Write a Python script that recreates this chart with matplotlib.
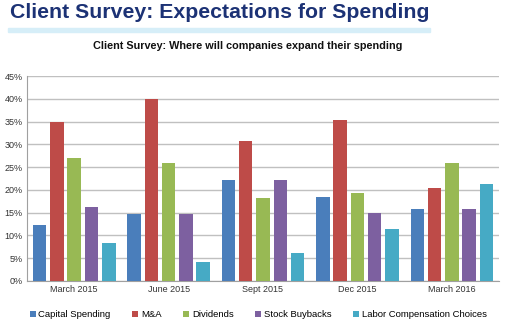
import numpy as np
import matplotlib
matplotlib.use("Agg")
import matplotlib.pyplot as plt
from matplotlib.patches import Rectangle

plt.rcParams["font.family"] = ["Liberation Sans", "DejaVu Sans"]

periods = ["March 2015", "June 2015", "Sept 2015", "Dec 2015", "March 2016"]
series_names = ["Capital Spending", "M&A", "Dividends", "Stock Buybacks", "Labor Compensation Choices"]
capital = [12.4, 14.7, 22.2, 18.5, 15.8]
mna = [35.0, 40.0, 30.7, 35.3, 20.5]
dividends = [27.1, 25.9, 18.3, 19.3, 26.0]
buybacks = [16.3, 14.7, 22.2, 14.9, 15.8]
labor = [8.4, 4.2, 6.1, 11.4, 21.4]
colors = ["#4a7ebb", "#be4b48", "#98b954", "#7d60a0", "#46aac5"]

all_series = [capital, mna, dividends, buybacks, labor]

fig = plt.figure(figsize=(5.14, 3.26), dpi=100)
ax = fig.add_axes([27/514, 1 - 281/326, (499-27)/514, (281-76)/326])

x = np.arange(len(periods))
pitch = 0.183
width = 0.143
for i, (vals, name, c) in enumerate(zip(all_series, series_names, colors)):
    ax.bar(x + (i - 2) * pitch, vals, width=width, color=c, label=name, zorder=3)

ax.set_xlim(-0.5, len(periods) - 0.5)
ax.set_ylim(0, 45)
ax.set_yticks(range(0, 46, 5))
ax.set_yticklabels([f"{v}%" for v in range(0, 46, 5)], fontsize=6.5, color="#333333")
ax.set_xticks(x)
ax.set_xticklabels(periods, fontsize=6.5, color="#333333")
ax.tick_params(axis="both", length=0, pad=3)
ax.grid(axis="y", color="#c0c0c0", linewidth=1, zorder=0)
for s in ["top", "right"]:
    ax.spines[s].set_visible(False)
ax.spines["left"].set_color("#a0a0a0")
ax.spines["bottom"].set_color("#a0a0a0")

ax.legend(loc="upper center", bbox_to_anchor=(0.49, -0.1), ncol=5, frameon=False,
          fontsize=6.8, handlelength=0.6, handleheight=0.6, handletextpad=0.3,
          columnspacing=2.3)

fig.text(10/514, 1 - 13/326, "Client Survey: Expectations for Spending", fontsize=15.3,
         fontweight="bold", color="#1c3275", va="center", ha="left")
fig.patches.append(Rectangle((8/514, 1 - 32/326), (430-8)/514, 4/326,
                             transform=fig.transFigure, color="#d6eef8", zorder=0))
fig.text(248/514, 1 - 46/326, "Client Survey: Where will companies expand their spending",
         fontsize=7.8, fontweight="bold", color="#111111", va="center", ha="center")

fig.savefig("out.png", dpi=100)
